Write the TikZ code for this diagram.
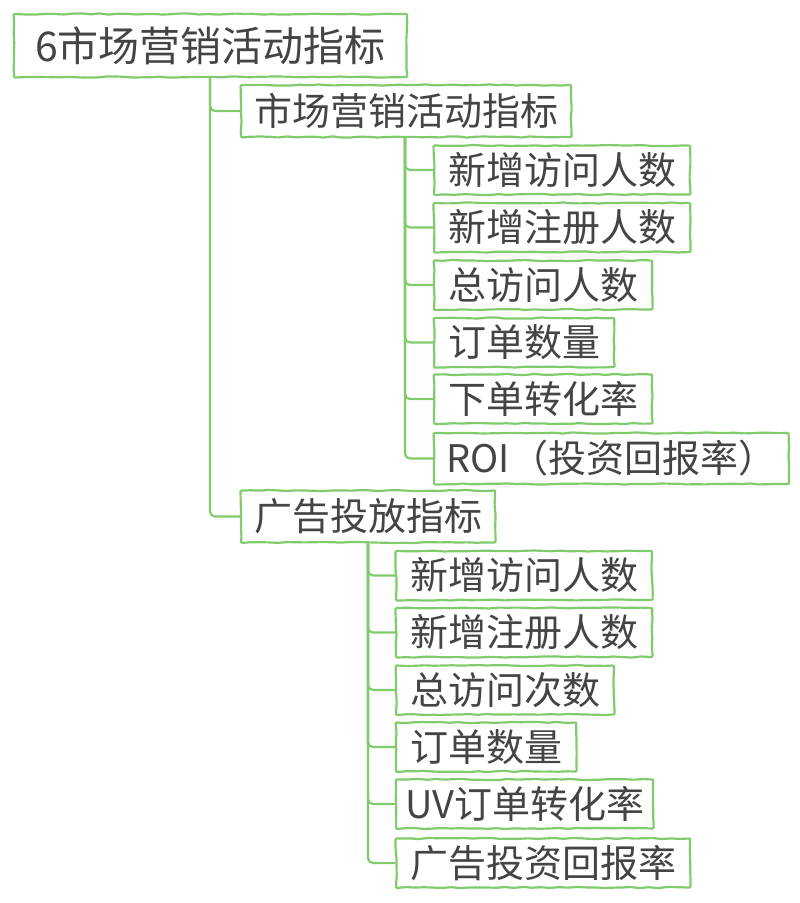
\documentclass[tikz,border=0pt]{standalone}
\usepackage{fontspec}
\newfontfamily\cjk{Noto Sans CJK SC}
\usetikzlibrary{decorations.pathmorphing}
\definecolor{mapgreen}{HTML}{80CC6C}
\definecolor{maptext}{HTML}{444444}
\tikzset{
  x=1pt,y=-1pt,
  sketch/.style={decorate,decoration={random steps,segment length=9pt,amplitude=0.6pt}},
  box/.style={draw=mapgreen,line width=2.2pt,sketch,rounded corners=1pt,fill=white,
    text=maptext,anchor=west,inner ysep=0pt,inner xsep=14pt,
    font=\cjk\fontsize{38}{40}\selectfont,minimum height=49pt},
  rootbox/.style={box,inner xsep=21pt,minimum height=63pt,font=\cjk\fontsize{41}{44}\selectfont},
  midbox/.style={box,inner xsep=13pt,minimum height=52pt},
  conn/.style={draw=mapgreen,line width=2.2pt,rounded corners=5pt}
}
\begin{document}
\pgfmathsetseed{7}
\begin{tikzpicture}
\useasboundingbox[fill=white] (0,0) rectangle (800,903);
\node[rootbox] (root) at (13,45.5) {6市场营销活动指标};
\node[midbox] (A) at (240,111) {市场营销活动指标};
\node[box] (a1) at (433,170) {新增访问人数};
\node[box] (a2) at (433,227.5) {新增注册人数};
\node[box] (a3) at (433,285) {总访问人数};
\node[box] (a4) at (433,342.5) {订单数量};
\node[box] (a5) at (433,399) {下单转化率};
\node[box,minimum height=51pt,inner xsep=12.5pt] (a6) at (433,458.5) {ROI（投资回报率）};
\node[midbox] (B) at (240,516.5) {广告投放指标};
\node[box] (b1) at (395,575.5) {新增访问人数};
\node[box] (b2) at (395,632.5) {新增注册人数};
\node[box] (b3) at (395,690) {总访问次数};
\node[box] (b4) at (395,747) {订单数量};
\node[box,inner xsep=9pt] (b5) at (395,804) {UV订单转化率};
\node[box] (b6) at (395,863) {广告投资回报率};
\draw[conn] ([xshift=197pt]root.south west) |- (A.west);
\draw[conn] ([xshift=197pt]root.south west) |- (B.west);
\foreach \n in {a1,a2,a3,a4,a5,a6}{\draw[conn] ([xshift=165pt]A.south west) |- (\n.west);}
\foreach \n in {b1,b2,b3,b4,b5,b6}{\draw[conn] ([xshift=128pt]B.south west) |- (\n.west);}
\end{tikzpicture}
\end{document}
